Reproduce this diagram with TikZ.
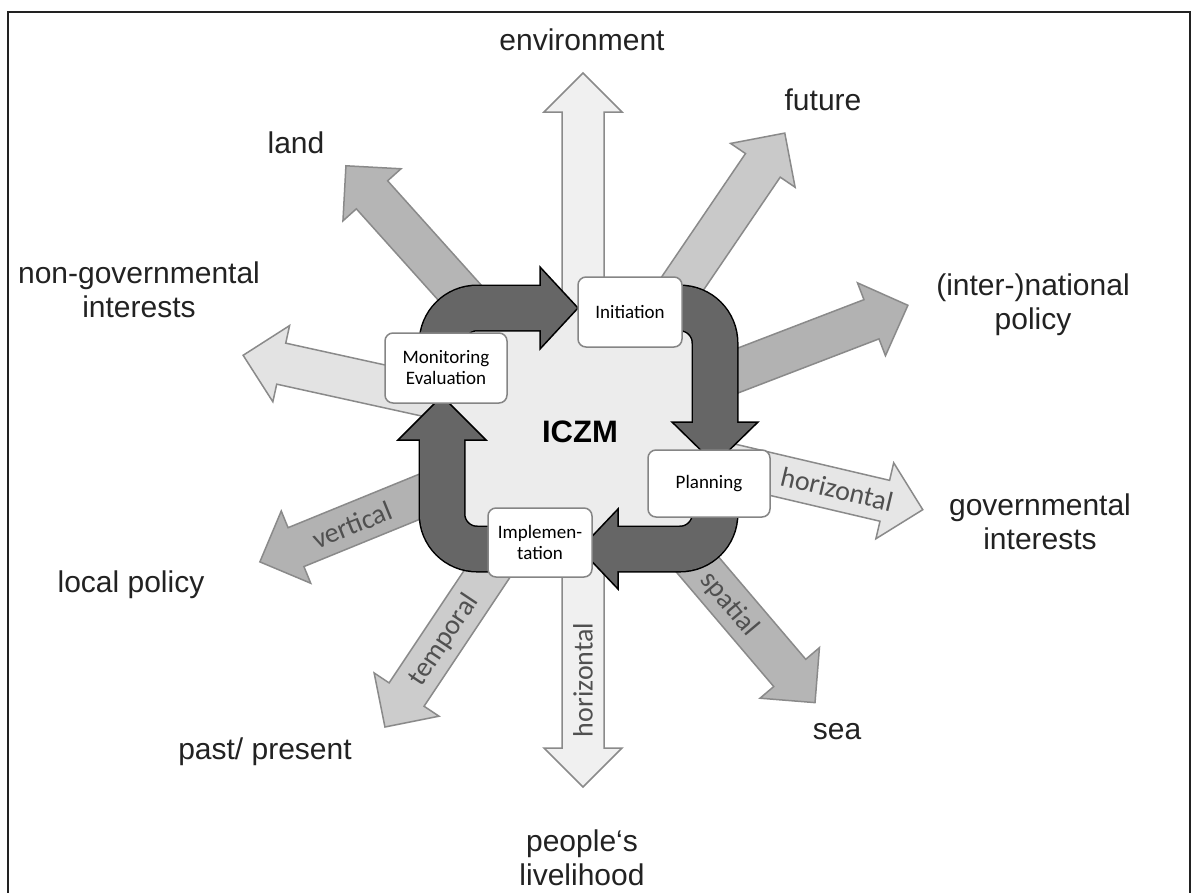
\documentclass[tikz,border=0pt]{standalone}
\usepackage{fontspec}
\setmainfont{Liberation Sans}
\newfontfamily\calfont{Carlito}
\definecolor{cBorder}{HTML}{8A8A8A}
\definecolor{cEnv}{HTML}{F0F0F0}
\definecolor{cLnd}{HTML}{B5B5B5}
\definecolor{cFut}{HTML}{C9C9C9}
\definecolor{cInt}{HTML}{B2B2B2}
\definecolor{cGov}{HTML}{E6E6E6}
\definecolor{cSea}{HTML}{B5B5B5}
\definecolor{cTmp}{HTML}{CCCCCC}
\definecolor{cVer}{HTML}{B2B2B2}
\definecolor{cNgo}{HTML}{E3E3E3}
\definecolor{cCtr}{HTML}{ECECEC}
\definecolor{cDark}{HTML}{666666}
\definecolor{cText}{HTML}{222222}
\definecolor{cLbl}{HTML}{505050}
\definecolor{cBox}{HTML}{858585}
\newcommand{\blockarrow}[3]{%
  \begin{scope}[shift={(C)}, rotate=#1]
    \filldraw[radial, fill=#3] (0,-21) -- ({#2-39},-21) -- ({#2-39},-39) -- (#2,0)
      -- ({#2-39},39) -- ({#2-39},21) -- (0,21) -- cycle;
  \end{scope}}
\begin{document}
\begin{tikzpicture}[x=1pt,y=-1pt,
  radial/.style={draw=cBorder, line width=1.5pt, line join=miter},
  bandout/.style={line width=47pt, draw=black, rounded corners=35pt},
  bandin/.style={line width=44pt, draw=cDark, rounded corners=35pt},
  headstyle/.style={fill=cDark, draw=black, line width=1.5pt, line join=miter},
  box/.style={draw=cBox, fill=white, rounded corners=8pt, line width=1.5pt,
    font=\calfont\fontsize{19}{21}\selectfont, align=center, inner sep=0pt},
  outer/.style={text=cText, font=\fontsize{30}{34}\selectfont, align=center, inner sep=0pt},
  albl/.style={text=cLbl, font=\calfont\fontsize{28}{30}\selectfont, inner sep=0pt}]
\useasboundingbox (0,0) rectangle (1197,892);
\fill[white] (0,0) rectangle (1197,892);
\draw[cText, line width=2pt] (8,895) -- (8,12) -- (1190,12) -- (1190,895);
\coordinate (C) at (583,430);
% radial arrows
\blockarrow{55.8}{359}{cFut}
\blockarrow{21}{348}{cInt}
\blockarrow{-13.2}{349}{cGov}
\blockarrow{-49.6}{358}{cSea}
\blockarrow{236.3}{357}{cTmp}
\blockarrow{202.2}{349}{cVer}
\blockarrow{167.6}{348}{cNgo}
\blockarrow{131.9}{355}{cLnd}
\begin{scope}[shift={(C)}, rotate=90]
  \filldraw[radial, fill=cEnv] (-318,-21) -- (318,-21) -- (318,-39) -- (357,0) -- (318,39)
    -- (318,21) -- (-318,21) -- (-318,39) -- (-357,0) -- (-318,-39) -- cycle;
\end{scope}
% centre
\fill[cCtr, rounded corners=35pt] (442,308) rectangle (715,549);
% cycle arrows
\draw[bandout] (442,380) -- (442,308) -- (540,308);
\filldraw[headstyle] (540,267) -- (578,308) -- (540,349) -- cycle;
\draw[bandin] (442,380) -- (442,308) -- (542,308);
\draw[bandout] (660,308) -- (715,308) -- (715,422);
\filldraw[headstyle] (672,422) -- (715,464) -- (758,422) -- cycle;
\draw[bandin] (660,308) -- (715,308) -- (715,424);
\draw[bandout] (715,490) -- (715,549) -- (618,549);
\filldraw[headstyle] (618,509) -- (580,549) -- (618,589) -- cycle;
\draw[bandin] (715,490) -- (715,549) -- (616,549);
\draw[bandout] (520,549) -- (442,549) -- (442,440);
\filldraw[headstyle] (398,440) -- (442,396) -- (486,440) -- cycle;
\draw[bandin] (520,549) -- (442,549) -- (442,438);
% boxes
\node[box, minimum width=104pt, minimum height=70pt] (ini) at (630,312) {Initiation};
\node[box, minimum width=122pt, minimum height=70pt] (mon) at (446,368) {Monitoring\\Evaluation};
\node[box, minimum width=122pt, minimum height=67pt] (pla) at (709,483.5) {Planning};
\node[box, minimum width=104pt, minimum height=69pt] (imp) at (540,542.5) {Implemen-\\tation};
\node[text=black, font=\bfseries\fontsize{31}{34}\selectfont, inner sep=0pt] (iczm) at (580,432) {ICZM};
% arrow labels
\node[albl, rotate=-13.5] (lgov) at (837,489) {horizontal};
\node[albl, rotate=-50] (lsea) at (729,604) {spatial};
\node[albl, rotate=90] (lppl) at (583,680) {horizontal};
\node[albl, rotate=56.3] (ltmp) at (444,640) {temporal};
\node[albl, rotate=22] (lver) at (352,525) {vertical};
% outer labels
\node[outer] (env) at (582,40) {environment};
\node[outer] (fut) at (823,100) {future};
\node[outer] (lnd) at (296,143) {land};
\node[outer] (ngo) at (139,290) {non-governmental\\interests};
\node[outer] (int) at (1033,305) {(inter-)national\\policy};
\node[outer] (gov) at (1040,522) {governmental\\interests};
\node[outer] (loc) at (131,585) {local policy};
\node[outer] (pst) at (265,752) {past/ present};
\node[outer] (sea) at (837,732) {sea};
\node[outer] (ppl) at (582,858) {people‘s\\livelihood};
\end{tikzpicture}
\end{document}
